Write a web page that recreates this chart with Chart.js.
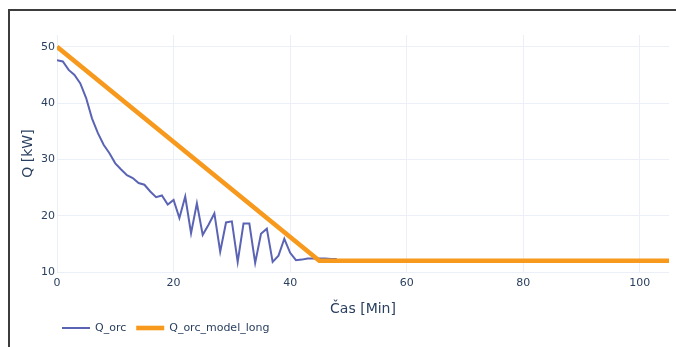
<!DOCTYPE html>
<html>
<head>
<meta charset="utf-8">
<script src="https://cdn.jsdelivr.net/npm/chart.js@4/dist/chart.umd.min.js"></script>
<style>
  html, body { margin: 0; padding: 0; background: #fff; overflow: hidden; }
  #wrap { position: relative; width: 676px; height: 347px; }
  #frame { position: absolute; left: 8px; top: 9px; width: 800px; height: 500px;
           border-left: 2px solid #3c3c3c; border-top: 2px solid #3c3c3c; pointer-events: none; }
</style>
</head>
<body>
<div id="wrap">
  <canvas id="c" width="676" height="347"></canvas>
  <div id="frame"></div>
</div>
<script>
// ---- data ----
const timeOrc = [0,1,2,3,4,5,6,7,8,9,10,11,12,13,14,15,16,17,18,19,20,21,22,23,24,25,26,27,28,29,30,31,32,33,34,35,36,37,38,39,40,41,42,43,44,45,46,47,48];
const qOrc = [47.6,47.4,45.9,45.0,43.5,40.9,37.3,34.7,32.6,31.1,29.3,28.2,27.2,26.7,25.8,25.5,24.3,23.3,23.6,22.0,22.8,19.6,23.4,16.9,22.2,16.6,18.4,20.4,13.6,18.8,19.0,11.8,18.6,18.6,11.6,16.8,17.7,11.8,12.9,15.9,13.4,12.1,12.2,12.4,12.4,12.4,12.4,12.3,12.3];
const timeModel = [0, 45, 105];
const qModel = [50, 12, 12];
const xTicks = [0, 20, 40, 60, 80, 100];
const yTicks = [10, 20, 30, 40, 50];
const seriesNames = ['Q_orc', 'Q_orc_model_long'];

const FONT = '"DejaVu Sans", Verdana, sans-serif';
const TXT = '#2a3f5f';
const GRID = '#ebf0f8';

const toPts = (xs, ys) => xs.map((x, i) => ({x: x, y: ys[i]}));

const legendPlugin = {
  id: 'customLegend',
  afterDraw(chart) {
    const ctx = chart.ctx;
    ctx.save();
    ctx.font = '11px ' + FONT;
    ctx.textBaseline = 'middle';
    ctx.textAlign = 'left';
    let cursor = 62;
    const y = 328;
    chart.data.datasets.forEach(ds => {
      ctx.strokeStyle = ds.borderColor;
      ctx.lineWidth = ds.borderWidth;
      ctx.beginPath();
      ctx.moveTo(cursor, y);
      ctx.lineTo(cursor + 28, y);
      ctx.stroke();
      ctx.fillStyle = TXT;
      const tx = cursor + 33;
      ctx.fillText(ds.label, tx, y);
      cursor = tx + ctx.measureText(ds.label).width + 10;
    });
    ctx.restore();
  }
};

new Chart(document.getElementById('c'), {
  type: 'line',
  data: {
    datasets: [
      {
        label: seriesNames[0],
        data: toPts(timeOrc, qOrc),
        borderColor: '#5b64b4',
        borderWidth: 2,
        pointRadius: 0,
        tension: 0,
        order: 1
      },
      {
        label: seriesNames[1],
        data: toPts(timeModel, qModel),
        borderColor: '#f7991c',
        borderWidth: 4.6,
        pointRadius: 0,
        tension: 0,
        order: 0
      }
    ]
  },
  options: {
    responsive: false,
    animation: false,
    devicePixelRatio: 1,
    layout: { padding: { top: 35, right: 7, left: 0, bottom: 0 } },
    plugins: { legend: { display: false }, tooltip: { enabled: false } },
    scales: {
      x: {
        type: 'linear',
        min: 0,
        max: 105,
        afterFit(s) { s.height = 75; },
        afterBuildTicks(s) { s.ticks = xTicks.map(v => ({value: v})); },
        grid: { color: GRID, lineWidth: 1, drawTicks: false },
        border: { display: false },
        ticks: { color: TXT, font: { family: FONT, size: 11 }, padding: 5, maxRotation: 0 },
        title: { display: true, text: 'Čas [Min]', color: TXT,
                 font: { family: FONT, size: 14 }, padding: { top: 0, bottom: 29.6 } }
      },
      y: {
        type: 'linear',
        min: 10,
        max: 52.1,
        afterFit(s) { s.width = 57; },
        afterBuildTicks(s) { s.ticks = yTicks.map(v => ({value: v})); },
        grid: { color: GRID, lineWidth: 1, drawTicks: false },
        border: { display: false },
        ticks: { color: TXT, font: { family: FONT, size: 11 }, padding: 2 },
        title: { display: true, text: 'Q [kW]', color: TXT,
                 font: { family: FONT, size: 14 }, padding: { top: 19.6, bottom: 0 } }
      }
    }
  },
  plugins: [legendPlugin]
});
</script>
</body>
</html>
